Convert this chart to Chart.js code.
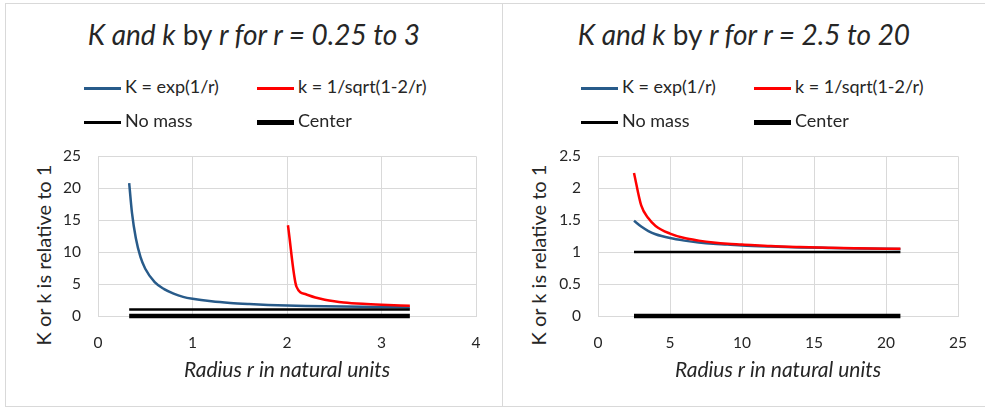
<!DOCTYPE html>
<html>
<head>
<meta charset="utf-8">
<script src="https://cdn.jsdelivr.net/npm/chart.js@4.4.1/dist/chart.umd.min.js"></script>
<style>
  body { margin: 0; background: #fff; width: 985px; height: 410px; overflow: hidden; position: relative; font-family: Lato, sans-serif; color: #262626; }
  .panel { position: absolute; box-sizing: border-box; border: 1px solid #d9d9d9; background: #fff; }
  .ttl { position: absolute; left: 0; width: 100%; text-align: center; font-size: 28px; line-height: 34px; top: 13px; white-space: nowrap; }
  .leg { position: absolute; font-size: 18px; line-height: 22px; white-space: nowrap; }
  .leg span.ln { display: inline-block; width: 37px; vertical-align: middle; margin-right: 4px; }
  .ytl { position: absolute; width: 240px; text-align: center; font-size: 20px; line-height: 24px; transform: rotate(-90deg); white-space: nowrap; }
  canvas { position: absolute; left: 0; top: 126px; }
</style>
</head>
<body>
<div class="panel" id="p1" style="left:5px;top:3px;width:498px;height:404px;">
  <div class="ttl"><i>K and k</i> by <i>r for r = 0.25 to 3</i></div>
  <div class="ytl" style="left:-83px;top:239px;">K or k is relative to 1</div>
  <canvas id="c1" width="496" height="275"></canvas>
</div>
<div class="panel" id="p2" style="left:503px;top:3px;width:500px;height:404px;border-left:none;">
  <div class="ttl" style="width:482px;"><i>K and k</i> by <i>r for r = 2.5 to 20</i></div>
  <div class="ytl" style="left:-85px;top:239px;">K or k is relative to 1</div>
  <canvas id="c2" width="482" height="275"></canvas>
</div>
<script>
// series names
var names = ["K = exp(1/r)", "k = 1/sqrt(1-2/r)", "No mass", "Center"];
var colores = ["#285b8a", "#ff0000", "#000000", "#000000"];
var grosor = [2.5, 2.5, 2.5, 4.5];

// left chart, r = 0.25 to 3
var rK1 = [0.33, 0.36, 0.4, 0.45, 0.5, 0.6, 0.7, 0.8, 0.9, 1.0, 1.2, 1.4, 1.6, 1.8, 2.0, 2.2, 2.4, 2.6, 2.8, 3.0, 3.3];
var K1 = [20.8, 16.1, 12.2, 9.2, 7.4, 5.3, 4.2, 3.5, 3.0, 2.7, 2.3, 2.04, 1.87, 1.74, 1.65, 1.58, 1.52, 1.47, 1.43, 1.40, 1.35];
var rk1 = [2.01, 2.1, 2.2, 2.3, 2.4, 2.5, 2.6, 2.8, 3.0, 3.3];
var k1 = [14.2, 4.6, 3.4, 2.9, 2.55, 2.3, 2.12, 1.9, 1.75, 1.59];
var rLine1 = [0.33, 3.3];
var noMass1 = [1, 1];
var center1 = [0, 0];

// right chart, r = 2.5 to 20
var rK2 = [2.5, 3, 3.5, 4, 5, 6, 7, 8, 9, 10, 12, 14, 16, 18, 21];
var K2 = [1.49, 1.40, 1.33, 1.28, 1.22, 1.18, 1.15, 1.13, 1.12, 1.105, 1.087, 1.074, 1.065, 1.057, 1.049];
var k2 = [2.24, 1.73, 1.53, 1.41, 1.29, 1.22, 1.18, 1.15, 1.13, 1.12, 1.095, 1.08, 1.069, 1.061, 1.051];
var rLine2 = [2.5, 21];
var noMass2 = [1, 1];
var center2 = [0, 0];

function puntos(xs, ys) {
  var out = [];
  for (var i = 0; i < xs.length; i++) out.push({x: xs[i], y: ys[i]});
  return out;
}

function serie(i, data) {
  return {
    label: names[i],
    data: data,
    borderColor: colores[i],
    backgroundColor: colores[i],
    borderWidth: grosor[i],
    showLine: true,
    pointRadius: 0,
    clip: false,
    cubicInterpolationMode: "monotone",
    order: 4 - i
  };
}

function leyenda(panelId) {
  var p = document.getElementById(panelId);
  var lefts = [78, 251, 78, 251];
  var tops = [71, 71, 105, 105];
  for (var i = 0; i < names.length; i++) {
    var d = document.createElement("div");
    d.className = "leg";
    d.style.left = lefts[i] + "px";
    d.style.top = tops[i] + "px";
    d.innerHTML = "<span class='ln' style='height:" + grosor[i] + "px;background:" + colores[i] + "'></span>" + names[i];
    p.appendChild(d);
  }
}

var tickFont = {family: "Lato", size: 15.5};

function grafica(id, datasets, xmax, xstep, ymax, ystep, rightPad, yWidth) {
  new Chart(document.getElementById(id), {
    type: "scatter",
    data: {datasets: datasets},
    options: {
      responsive: false,
      animation: false,
      layout: {padding: {left: 22, top: 26, right: rightPad, bottom: 10}},
      plugins: {legend: {display: false}, title: {display: false}, tooltip: {enabled: false}},
      scales: {
        x: {
          type: "linear", min: 0, max: xmax,
          ticks: {stepSize: xstep, padding: 18, font: tickFont, color: "#262626"},
          grid: {color: "#d9d9d9", drawTicks: false},
          border: {color: "#d9d9d9"},
          title: {display: true, text: "Radius r in natural units", color: "#262626",
                  font: {family: "Lato", size: 21, style: "italic"}, padding: {top: 0, bottom: 12}},
          afterFit: function (s) { s.height = 79; }
        },
        y: {
          min: 0, max: ymax,
          ticks: {stepSize: ystep, padding: 17, font: tickFont, color: "#262626",
                  callback: function (v) { return String(Math.round(v * 10) / 10); }},
          grid: {color: "#d9d9d9", drawTicks: false},
          border: {color: "#d9d9d9"},
          afterFit: function (s) { s.width = yWidth; }
        }
      }
    }
  });
}

grafica("c1", [
  serie(0, puntos(rK1, K1)),
  serie(1, puntos(rk1, k1)),
  serie(2, puntos(rLine1, noMass1)),
  serie(3, puntos(rLine1, center1))
], 4, 1, 25, 5, 26, 70);

grafica("c2", [
  serie(0, puntos(rK2, K2)),
  serie(1, puntos(rK2, k2)),
  serie(2, puntos(rLine2, noMass2)),
  serie(3, puntos(rLine2, center2))
], 25, 5, 2.5, 0.5, 20, 73);

leyenda("p1");
leyenda("p2");
</script>
</body>
</html>
